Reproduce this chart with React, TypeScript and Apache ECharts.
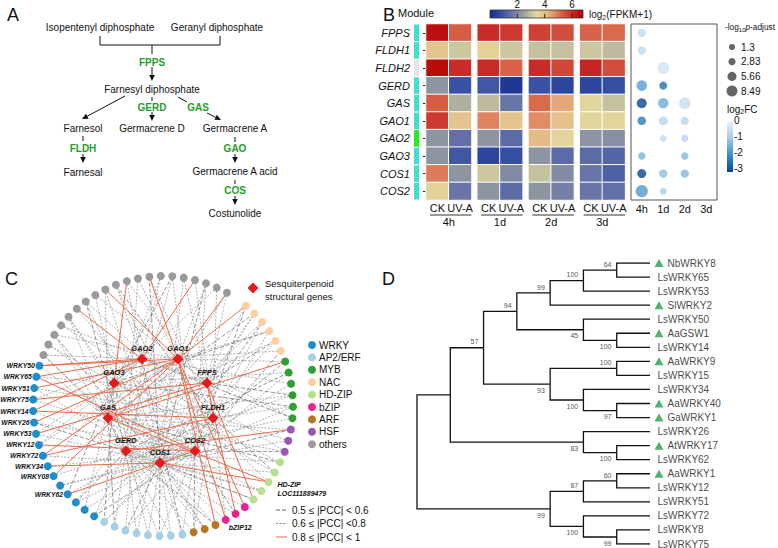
import React, { useEffect, useRef } from "react";
import * as echarts from "echarts";

const FONT = "'Liberation Sans', Arial, Helvetica, sans-serif";

// ---------------- Panel B data ----------------
const genes = ["FPPS", "FLDH1", "FLDH2", "GERD", "GAS", "GAO1", "GAO2", "GAO3", "COS1", "COS2"];
const geneModules = ["turquoise", "turquoise", "grey", "turquoise", "turquoise", "turquoise", "green", "turquoise", "turquoise", "turquoise"];
const timePoints = ["4h", "1d", "2d", "3d"];
const treatments = ["CK", "UV-A"];
// log2(FPKM+1): [4h CK, 4h UV-A, 1d CK, 1d UV-A, 2d CK, 2d UV-A, 3d CK, 3d UV-A]
const exprFPPS = [6.5, 5.3, 6.0, 5.8, 5.7, 5.5, 5.2, 5.1];
const exprFLDH1 = [3.9, 3.1, 3.6, 3.1, 3.0, 3.0, 3.1, 2.9];
const exprFLDH2 = [6.6, 6.0, 6.0, 5.2, 6.0, 5.6, 6.1, 5.5];
const exprGERD = [2.2, 0.9, 1.0, 0.3, 0.9, 0.6, 0.6, 0.8];
const exprGAS = [5.3, 2.7, 2.9, 1.6, 5.1, 4.4, 3.5, 3.0];
const exprGAO1 = [5.8, 3.9, 4.8, 3.9, 4.7, 4.0, 3.5, 3.5];
const exprGAO2 = [2.2, 1.5, 2.2, 1.4, 4.1, 3.5, 2.2, 2.1];
const exprGAO3 = [2.2, 1.0, 0.6, 0.8, 2.2, 1.4, 1.4, 1.3];
const exprCOS1 = [4.9, 2.2, 3.1, 2.0, 3.0, 2.0, 1.6, 1.2];
const exprCOS2 = [3.6, 1.6, 2.2, 1.4, 2.2, 1.8, 1.6, 1.5];
const expr = [exprFPPS, exprFLDH1, exprFLDH2, exprGERD, exprGAS, exprGAO1, exprGAO2, exprGAO3, exprCOS1, exprCOS2];
const heatMin = 0;
const heatMax = 6.8;
const heatTicks = [2, 4, 6];
// [gene, time, -log10 p.adjust, log2FC]
const enrichment: [string, string, number, number][] = [
  ["FPPS", "4h", 4.5, -0.6],
  ["FLDH1", "4h", 4.8, -0.6],
  ["FLDH2", "1d", 10, -0.35],
  ["GERD", "4h", 8, -1.7],
  ["GERD", "1d", 4, -2.4],
  ["GAS", "4h", 7, -3],
  ["GAS", "1d", 7.8, -1.5],
  ["GAS", "2d", 9.3, -0.5],
  ["GAO1", "4h", 5, -2.2],
  ["GAO1", "1d", 5.5, -0.7],
  ["GAO1", "2d", 4.5, -0.7],
  ["GAO2", "1d", 2.2, -0.6],
  ["GAO2", "2d", 2.6, -0.7],
  ["GAO3", "4h", 3, -1.4],
  ["GAO3", "2d", 3.5, -1.3],
  ["COS1", "4h", 5.5, -3],
  ["COS1", "1d", 4.5, -1.2],
  ["COS1", "2d", 4.5, -1.3],
  ["COS2", "4h", 10.5, -1.8],
  ["COS2", "1d", 2.2, -0.9],
];
const pLegend = [1.3, 2.83, 5.66, 8.49];
const fcTicks = [0, -1, -2, -3];

// ---------------- Panel C data ----------------
const families = ["WRKY", "AP2/ERF", "MYB", "NAC", "HD-ZIP", "bZIP", "ARF", "HSF", "others"];
// ring, clockwise from the upper right
const ringGroups: [string, number][] = [
  ["NAC", 6], ["MYB", 6], ["HSF", 3], ["HD-ZIP", 5], ["bZIP", 3], ["ARF", 3], ["AP2/ERF", 8], ["WRKY", 16], ["others", 20],
];
const ringLabels: [number, string][] = [
  [17, "HD-ZIP\nLOC111889479"], [22, "bZIP12"],
  [49, "WRKY50"], [48, "WRKY65"], [47, "WRKY51"], [46, "WRKY75"], [45, "WRKY14"], [44, "WRKY26"],
  [43, "WRKY53"], [42, "WRKY12"], [41, "WRKY72"], [40, "WRKY34"], [39, "WRKY08"], [37, "WRKY62"],
];
const structGenes = ["FPPS", "FLDH1", "GERD", "GAS", "GAO1", "GAO2", "GAO3", "COS1", "COS2"];
const geneCode: Record<string, string> = { F: "FPPS", L: "FLDH1", D: "GERD", S: "GAS", A: "GAO1", B: "GAO2", C: "GAO3", X: "COS1", Y: "COS2" };
const pccClasses = ["0.5 ≤ |PCC| < 0.6", "0.6 ≤ |PCC| <0.8", "0.8 ≤ |PCC| < 1"];
// per ring node: gene code + class (1: 0.8-1, 2: 0.6-0.8, 3: 0.5-0.6)
const ringLinks = [
  "A1,X2,Y3", "F2,X2,S3", "L2,D2,X3", "A2,Y2,C3", "F3,S2,X2", "B2,Y3",
  "S1,A2,X3", "C2,Y2,D3", "B2,X2", "S2,D2,F3", "C3,X2,L2", "B3,D2,A2",
  "D1,S2,X3", "C2,X2", "S2,Y3,B2",
  "D2,S3,C2", "X2,L3,C2", "S1,X1,B2", "X2,S2,D2", "F1,D2,X3",
  "A1,X2", "D2,F1,Y3", "A1,L2,X2",
  "A1,X2,D3", "C2,S2,X2", "L2,D2,Y3",
  "X2,B3,Y2", "D2,X2", "S2,X3,Y2", "X2,C2", "D2,A2", "X3,Y2,B2", "D2,S3", "X2,L2,C3",
  "D2,Y3,F2", "C2,X2", "X2,D3,A2", "Y1,L2,C3", "Y2,X2", "A1,D2", "X1,Y2,B2", "L1,A1,X2",
  "Y1,B2,A2", "F1,C2,X2", "A1,Y2,D3", "B1,L1,X2", "F1,B2,Y2", "A1,X2,L2", "B1,Y1,C2", "A1,B1,S2",
  "B2,X2,S3", "Y2,C2", "A2,D2,X3", "F2,L2", "S2,X2,C2", "B1,Y2", "L2,X2,D3", "F2,C2", "A1,S2,X2", "B2,Y2,L3",
  "C1,F2,X2", "D2,A2", "A1,L2,X3", "B2,S2", "Y2,D2,C3", "F2,X2", "B1,L2", "A2,Y2,X3", "C2,L2", "A1,D2,F2",
];
const innerLinks = ["F-A2", "B-C2", "S-D3", "X-Y2", "L-F2", "C-S2"];

// ---------------- Panel D data ----------------
const newick =
  "(((((((NbWRKY8,LsWRKY65)64,LsWRKY53)100,SlWRKY2)99,(LsWRKY50,(AaGSW1,LsWRKY14)100)45)94,((AaWRKY9,LsWRKY15)100,(LsWRKY34,(AaWRKY40,GaWRKY1)97)100)93)57,(LsWRKY26,(AtWRKY17,LsWRKY62)100)83),(((AaWRKY1,LsWRKY12)60,LsWRKY51)87,(LsWRKY72,(LsWRKY8,LsWRKY75)99)100)99)";
const markedPrefix = "Ls"; // leaves NOT starting with this get a triangle

// ---------------- styles ----------------
const moduleColor: Record<string, string> = { turquoise: "#40e0d0", grey: "#e4e4e4", green: "#22ee22" };
const heatColors = ["#16298f", "#3650a3", "#6f7aa8", "#a4a69e", "#e2d99e", "#e6b582", "#da6a4c", "#c92e2a", "#b40000"];
const fcColors = ["#08468f", "#2b7bba", "#6aaed6", "#b5d3ec", "#e6f0f9"];
const famColor: Record<string, string> = {
  WRKY: "#1f8dc9", "AP2/ERF": "#a6cee6", MYB: "#2e9e35", NAC: "#fdd0a2", "HD-ZIP": "#b5e08f",
  bZIP: "#e8238c", ARF: "#b87420", HSF: "#9a55b5", others: "#9a9a9a",
};
const innerLayout: Record<string, [number, number]> = {
  GAO2: [-0.162, -0.362], GAO1: [0.115, -0.362], GAO3: [-0.377, -0.177], FPPS: [0.338, -0.177],
  GAS: [-0.423, 0.092], FLDH1: [0.385, 0.092], GERD: [-0.285, 0.346], COS2: [0.246, 0.346], COS1: [-0.023, 0.438],
};
const pccStyle: Record<string, any> = {
  "1": { color: "#ec6a48", width: 1, type: "solid", opacity: 1 },
  "2": { color: "#8c8c8c", width: 0.7, type: [2, 1.5], opacity: 1 },
  "3": { color: "#666", width: 0.7, type: [4, 2], opacity: 1 },
};
const pSize = (p: number) => 5.3 + 0.667 * p;

// ---------------- helpers ----------------
const txt = (x: number, y: number, text: string, extra: any = {}) => ({
  type: "text", x, y, silent: true,
  style: { text, fill: "#111", fontSize: 10, fontFamily: FONT, align: "center", verticalAlign: "middle", ...extra },
});
const ln = (x1: number, y1: number, x2: number, y2: number, w = 1, c = "#111") => ({
  type: "line", silent: true, shape: { x1, y1, x2, y2 }, style: { stroke: c, lineWidth: w },
});
const arrow = (x1: number, y1: number, x2: number, y2: number) => {
  const a = Math.atan2(y2 - y1, x2 - x1);
  const L = 6, W = 2.8;
  const bx = x2 - L * Math.cos(a), by = y2 - L * Math.sin(a);
  return [
    ln(x1, y1, bx, by),
    {
      type: "polygon", silent: true,
      shape: { points: [[x2, y2], [bx - W * Math.sin(a), by + W * Math.cos(a)], [bx + W * Math.sin(a), by - W * Math.cos(a)]] },
      style: { fill: "#111" },
    },
  ];
};

type TNode = { name?: string; support?: string; children?: TNode[]; x?: number; y?: number; h?: number };
function parseNewick(s: string): TNode {
  let i = 0;
  const read = () => { let t = ""; while (i < s.length && !",();".includes(s[i])) t += s[i++]; return t; };
  const node = (): TNode => {
    if (s[i] === "(") {
      i++;
      const children = [node()];
      while (s[i] === ",") { i++; children.push(node()); }
      i++;
      return { children, support: read() };
    }
    return { name: read() };
  };
  return node();
}

function buildOption() {
  const grids: any[] = [], xAxes: any[] = [], yAxes: any[] = [], series: any[] = [], graphic: any[] = [];
  const axisText = { color: "#111", fontFamily: FONT };

  // ---------- Panel A ----------
  const green = { fill: "#1f9e2a", fontWeight: "bold" };
  graphic.push(
    txt(7, 15, "A", { align: "left", fontSize: 18 }),
    txt(100, 27, "Isopentenyl diphosphate"),
    txt(217, 27, "Geranyl diphosphate"),
    { type: "polyline", silent: true, shape: { points: [[100, 36], [100, 45], [220, 45], [220, 36]] }, style: { stroke: "#111", fill: null, lineWidth: 1 } },
    ln(152, 45, 152, 54),
    txt(152, 62, "FPPS", green),
    ...arrow(152, 67, 152, 81),
    txt(152, 89, "Farnesyl diphosphate"),
    ...arrow(125, 96, 82, 119),
    ln(152, 97, 152, 101),
    txt(152, 107, "GERD", green),
    ...arrow(152, 112, 152, 121),
    ln(178, 97, 187, 102),
    txt(198, 107, "GAS", green),
    ...arrow(207, 113, 221, 120),
    txt(83, 128, "Farnesol"),
    txt(152, 128, "Germacrene D"),
    txt(235, 128, "Germacrene A"),
    ln(83, 136, 83, 141),
    txt(83, 148, "FLDH", green),
    ...arrow(83, 154, 83, 163),
    txt(83, 172, "Farnesal"),
    ln(235, 137, 235, 142),
    txt(235, 148, "GAO", green),
    ...arrow(235, 154, 235, 163),
    txt(235, 171, "Germacrene A acid"),
    ln(235, 180, 235, 184),
    txt(235, 190, "COS", green),
    ...arrow(235, 196, 235, 205),
    txt(235, 213, "Costunolide"),
  );

  // ---------- Panel B heatmap ----------
  const HX0 = 426, HSTEP = 51.2, HW = 45.5, HT = 24, HH = 176;
  timePoints.forEach((tp, g) => {
    const left = HX0 + g * HSTEP;
    grids.push({ left, top: HT, width: HW, height: HH });
    xAxes.push({
      gridIndex: g, type: "category", data: treatments,
      axisLine: { show: false }, axisTick: { show: false },
      axisLabel: { ...axisText, fontSize: 11, margin: 2, interval: 0, hideOverlap: false },
      name: tp, nameLocation: "middle", nameGap: 16, nameTextStyle: { ...axisText, fontSize: 11 },
    });
    yAxes.push({
      gridIndex: g, type: "category", data: genes, inverse: true,
      axisLine: { show: false },
      axisTick: { show: g === 0, length: 3, alignWithLabel: true, lineStyle: { color: "#222", width: 1 } },
      axisLabel: { show: g === 0, ...axisText, fontSize: 11, fontStyle: "italic", margin: 16, interval: 0 },
    });
    series.push({
      type: "heatmap", xAxisIndex: g, yAxisIndex: g,
      data: genes.flatMap((_gn, gi) => treatments.map((_tr, ti) => [ti, gi, expr[gi][g * 2 + ti]])),
      itemStyle: { borderColor: "#fff", borderWidth: 1 },
    });
    graphic.push(ln(left + 4, 215, left + HW, 215, 1, "#333"));
  });
  // module
  grids.push({ left: 414, top: HT, width: 5, height: HH });
  xAxes.push({ gridIndex: 4, type: "value", min: 0, max: 1, show: false });
  yAxes.push({ gridIndex: 4, type: "category", data: genes, inverse: true, show: false });
  series.push({
    type: "bar", xAxisIndex: 4, yAxisIndex: 4, barWidth: 16.5,
    data: geneModules.map((m) => ({ value: 1, itemStyle: { color: moduleColor[m] } })),
  });
  // bubble
  grids.push({ left: 631, top: HT, width: 86, height: HH, show: true, borderColor: "#555", borderWidth: 1, backgroundColor: "transparent" });
  xAxes.push({ gridIndex: 5, type: "category", data: timePoints, axisLine: { show: false }, axisTick: { show: false }, axisLabel: { ...axisText, fontSize: 11, margin: 3, interval: 0 } });
  yAxes.push({ gridIndex: 5, type: "category", data: genes, inverse: true, show: false });
  series.push({
    type: "scatter", xAxisIndex: 5, yAxisIndex: 5,
    data: enrichment.map(([g, t, p, fc]) => [t, g, p, fc]),
    symbolSize: (v: number[]) => pSize(v[2]),
  });

  graphic.push(
    txt(383, 15, "B", { align: "left", fontSize: 18 }),
    txt(416, 13, "Module", { fontSize: 11 }),
    {
      type: "rect", silent: true, shape: { x: 490, y: 10, width: 93, height: 8 },
      style: {
        fill: new echarts.graphic.LinearGradient(0, 0, 1, 0, heatColors.map((c, i) => ({ offset: i / (heatColors.length - 1), color: c }))),
        stroke: "#333", lineWidth: 0.8,
      },
    },
    txt(589, 14, "{a|log}{s|2}{a|(FPKM+1)}", {
      align: "left",
      rich: { a: { fontSize: 10, fontFamily: FONT, fill: "#111", lineHeight: 13 }, s: { fontSize: 7, fontFamily: FONT, fill: "#111", lineHeight: 8, verticalAlign: "bottom" } },
    }),
  );
  heatTicks.forEach((v) => {
    const x = 490 + ((v - heatMin) / (heatMax - heatMin)) * 93;
    graphic.push(ln(x, 14, x, 18, 1, "#222"), txt(x, 4, String(v), { fontSize: 10 }));
  });
  // bubble legends
  graphic.push(
    txt(725, 27, "{a|-log}{s|10}{i|p}{a|-adjust}", {
      align: "left",
      rich: {
        a: { fontSize: 8.3, fontFamily: FONT, fill: "#111", lineHeight: 12 },
        i: { fontSize: 8.3, fontFamily: FONT, fill: "#111", lineHeight: 12, fontStyle: "italic" },
        s: { fontSize: 6, fontFamily: FONT, fill: "#111", lineHeight: 7, verticalAlign: "bottom" },
      },
    }),
  );
  pLegend.forEach((p, i) => {
    const y = 47 + i * 14.7;
    graphic.push(
      { type: "circle", silent: true, shape: { cx: 732, cy: y, r: pSize(p) / 2 }, style: { fill: "#666" } },
      txt(741, y, String(p), { align: "left", fontSize: 10 }),
    );
  });
  graphic.push(
    txt(727, 109, "{a|log}{s|2}{a|FC}", {
      align: "left",
      rich: { a: { fontSize: 10, fontFamily: FONT, fill: "#111", lineHeight: 12 }, s: { fontSize: 7, fontFamily: FONT, fill: "#111", lineHeight: 7, verticalAlign: "bottom" } },
    }),
    {
      type: "rect", silent: true, shape: { x: 727, y: 122, width: 6, height: 50 },
      style: { fill: new echarts.graphic.LinearGradient(0, 0, 0, 1, fcColors.slice().reverse().map((c, i) => ({ offset: i / (fcColors.length - 1), color: c }))) },
    },
  );
  fcTicks.forEach((v) => graphic.push(txt(734, 120 - v * 16, String(v), { align: "left", fontSize: 10 })));

  // ---------- Panel C network ----------
  grids.push({ left: 33, top: 276, width: 260, height: 260 });
  xAxes.push({ gridIndex: 6, type: "value", min: -1, max: 1, show: false });
  yAxes.push({ gridIndex: 6, type: "value", min: -1, max: 1, inverse: true, show: false });
  const ringFam: string[] = [];
  ringGroups.forEach(([f, n]) => { for (let k = 0; k < n; k++) ringFam.push(f); });
  const slots = ringFam.length + 1;
  const labelMap = new Map(ringLabels);
  const nodes: any[] = ringFam.map((f, k) => {
    const th = ((-50.4 + (k * 360) / slots) * Math.PI) / 180;
    const lab = labelMap.get(k);
    let label: any = { show: false };
    if (lab) {
      const base = { show: true, formatter: lab, fontSize: 7, fontStyle: "italic", fontWeight: "bold", color: "#111", fontFamily: FONT };
      if (f === "WRKY") label = { ...base, fontSize: 6.8, position: "left", distance: 0.5 };
      else if (f === "bZIP") label = { ...base, position: "right", distance: 5, offset: [-6, 8] };
      else label = { ...base, position: "right", distance: 5, offset: [0, 7], lineHeight: 9, align: "left" };
    }
    return { name: "r" + k, value: [Math.cos(th), Math.sin(th)], symbol: "circle", symbolSize: 8, itemStyle: { color: famColor[f] }, label };
  });
  const innerIndex: Record<string, number> = {};
  structGenes.forEach((g) => {
    innerIndex[g] = nodes.length;
    nodes.push({
      name: g, value: innerLayout[g], symbol: "diamond", symbolSize: [11, 11], z: 5,
      itemStyle: { color: "#e41a1c" },
      label: { show: true, position: "top", distance: 1, formatter: g, fontSize: 7.5, fontStyle: "italic", fontWeight: "bold", color: "#111", fontFamily: FONT },
    });
  });
  const links: any[] = [];
  ringLinks.forEach((s, k) => {
    s.split(",").forEach((e) => links.push({ source: k, target: innerIndex[geneCode[e[0]]], cls: e[1] }));
  });
  innerLinks.forEach((e) => links.push({ source: innerIndex[geneCode[e[0]]], target: innerIndex[geneCode[e[2]]], cls: e[3] }));
  links.sort((a, b) => (b.cls > a.cls ? 1 : b.cls < a.cls ? -1 : 0));
  series.push({
    type: "graph", coordinateSystem: "cartesian2d", xAxisIndex: 6, yAxisIndex: 6, layout: "none", silent: true,
    data: nodes,
    links: links.map((l) => ({ source: l.source, target: l.target, lineStyle: pccStyle[l.cls] })),
    lineStyle: { opacity: 1 },
    edgeSymbol: ["none", "none"],
  });
  graphic.push(
    txt(5, 279, "C", { align: "left", fontSize: 18 }),
    { type: "polygon", silent: true, shape: { points: [[253, 282.5], [258.5, 288], [253, 293.5], [247.5, 288]] }, style: { fill: "#e41a1c" } },
    txt(265, 283, "Sesquiterpenoid", { align: "left", fontSize: 9.5 }),
    txt(265, 296, "structural genes", { align: "left", fontSize: 9.5 }),
  );
  families.forEach((f, i) => {
    const y = 345 + i * 12.4;
    graphic.push(
      { type: "circle", silent: true, shape: { cx: 312, cy: y, r: 4 }, style: { fill: famColor[f] } },
      txt(319, y, f, { align: "left", fontSize: 10 }),
    );
  });
  pccClasses.forEach((c, i) => {
    const y = 510 + i * 13.5;
    const st = pccStyle[String(3 - i)];
    graphic.push(
      { type: "line", silent: true, shape: { x1: 276, y1: y, x2: 287, y2: y }, style: { stroke: st.color, lineWidth: 1, lineDash: Array.isArray(st.type) ? st.type : null } },
      txt(292, y, c, { align: "left", fontSize: 10 }),
    );
  });

  // ---------- Panel D tree ----------
  const root = parseNewick(newick);
  const leaves: TNode[] = [];
  const layout = (n: TNode): void => {
    if (!n.children) { n.h = 0; n.y = leaves.length; leaves.push(n); return; }
    n.children.forEach(layout);
    n.h = 1 + Math.max(...n.children.map((c) => c.h as number));
    n.y = ((n.children[0].y as number) + (n.children[n.children.length - 1].y as number)) / 2;
  };
  layout(root);
  const H = root.h as number;
  const edges: number[][][] = [];
  const supports: any[] = [];
  const walk = (n: TNode) => {
    n.x = H - (n.h as number);
    if (!n.children) return;
    n.children.forEach((c, ci) => {
      c.x = H - (c.h as number);
      edges.push([[n.x as number, n.y as number], [n.x as number, c.y as number], [c.x, c.y as number]]);
      if (c.children && c.support) {
        const up = ci === 0;
        supports.push({
          value: [c.x, c.y],
          label: { show: true, formatter: c.support, position: [-5, up ? -2 : 3], align: "right", verticalAlign: up ? "bottom" : "top", fontSize: 7, color: "#222", fontFamily: FONT },
        });
      }
      walk(c);
    });
  };
  walk(root);
  grids.push({ left: 417, top: 263, width: 233, height: 281 });
  xAxes.push({ gridIndex: 7, type: "value", min: 0, max: H, show: false });
  yAxes.push({ gridIndex: 7, type: "value", min: 0, max: leaves.length - 1, inverse: true, show: false });
  series.push({
    type: "lines", coordinateSystem: "cartesian2d", xAxisIndex: 7, yAxisIndex: 7, polyline: true, silent: true,
    data: edges.map((e) => ({ coords: e })),
    lineStyle: { color: "#111", width: 1.3, opacity: 1 },
  });
  series.push({
    type: "scatter", xAxisIndex: 7, yAxisIndex: 7, silent: true, symbolSize: 1, itemStyle: { color: "transparent" },
    label: { color: "#111" },
    data: leaves.map((l) => {
      const marked = !(l.name as string).startsWith(markedPrefix);
      return {
        value: [l.x, l.y],
        label: { show: true, position: "right", distance: marked ? 17 : 7, formatter: l.name, fontSize: 10, color: "#111", fontFamily: FONT },
      };
    }),
  });
  series.push({
    type: "scatter", xAxisIndex: 7, yAxisIndex: 7, silent: true, symbol: "triangle", symbolSize: [9, 8], symbolOffset: [9, 0],
    itemStyle: { color: "#22a04b" },
    data: leaves.filter((l) => !(l.name as string).startsWith(markedPrefix)).map((l) => [l.x, l.y]),
  });
  series.push({
    type: "scatter", xAxisIndex: 7, yAxisIndex: 7, silent: true, symbolSize: 0.5, itemStyle: { color: "#222" },
    label: { color: "#222", fontSize: 7 },
    data: supports,
  });
  graphic.push(txt(382, 279, "D", { align: "left", fontSize: 18 }));

  return {
    animation: false,
    backgroundColor: "#fff",
    textStyle: { fontFamily: FONT },
    grid: grids,
    xAxis: xAxes,
    yAxis: yAxes,
    visualMap: [
      { type: "continuous", show: false, min: heatMin, max: heatMax, dimension: 2, seriesIndex: [0, 1, 2, 3], inRange: { color: heatColors } },
      { type: "continuous", show: false, min: -3, max: 0, dimension: 3, seriesIndex: [5], inRange: { color: fcColors } },
    ],
    series,
    graphic,
  };
}

export default function App() {
  const ref = useRef<HTMLDivElement>(null);
  useEffect(() => {
    if (!ref.current) return;
    const chart = echarts.init(ref.current, undefined, { renderer: "svg" });
    chart.setOption(buildOption() as any);
    return () => chart.dispose();
  }, []);
  return <div ref={ref} style={{ position: "absolute", left: 0, top: 0, width: 778, height: 548, background: "#fff" }} />;
}
